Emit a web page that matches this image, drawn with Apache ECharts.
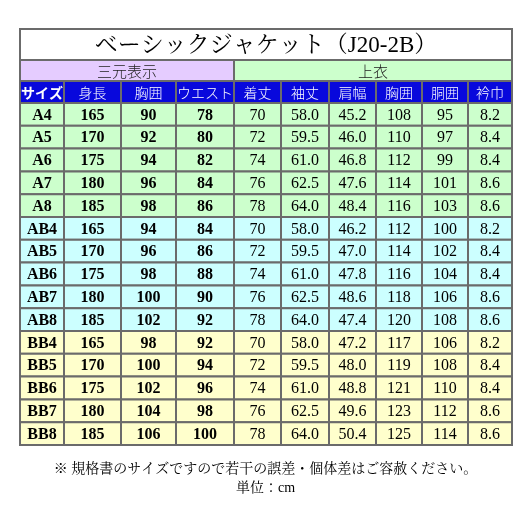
<!DOCTYPE html><html><head><meta charset="utf-8">
<script src="https://cdn.jsdelivr.net/npm/echarts@6/dist/echarts.min.js"></script>
<style>html,body{margin:0;background:#fff}#c{width:531px;height:531px}</style></head><body><div id="c"></div>
<script>
const title = 'ベーシックジャケット（J20-2B）';
const groups = ['三元表示', '上衣'];
const headers = ['サイズ','身長','胸囲','ウエスト','着丈','袖丈','肩幅','胸囲','胴囲','衿巾'];
const sizes = ['A4','A5','A6','A7','A8','AB4','AB5','AB6','AB7','AB8','BB4','BB5','BB6','BB7','BB8'];
const height = [165,170,175,180,185,165,170,175,180,185,165,170,175,180,185];
const chest = [90,92,94,96,98,94,96,98,100,102,98,100,102,104,106];
const waist = [78,80,82,84,86,84,86,88,90,92,92,94,96,98,100];
const length = [70,72,74,76,78,70,72,74,76,78,70,72,74,76,78];
const sleeve = ['58.0','59.5','61.0','62.5','64.0','58.0','59.5','61.0','62.5','64.0','58.0','59.5','61.0','62.5','64.0'];
const shoulder = ['45.2','46.0','46.8','47.6','48.4','46.2','47.0','47.8','48.6','47.4','47.2','48.0','48.8','49.6','50.4'];
const jChest = [108,110,112,114,116,112,114,116,118,120,117,119,121,123,125];
const jWaist = [95,97,99,101,103,100,102,104,106,108,106,108,110,112,114];
const collar = ['8.2','8.4','8.4','8.6','8.6','8.2','8.4','8.4','8.6','8.6','8.2','8.4','8.4','8.6','8.6'];

// layout (styling only)
const colEdges = [0,44,101,156,214,261,309,356,402,448,492];
const rowTop = i => 74 + i*22.8;
const rowFill = s => s.startsWith('BB') ? '#ffffcc' : s.startsWith('AB') ? '#ccffff' : '#ccffcc';
const serif = '"Liberation Serif","Noto Serif CJK JP","Noto Sans CJK JP",serif';
const gothic = '"Noto Sans CJK JP",sans-serif';

const cells = [];
cells.push([0,10,0,31,title,'#ffffff','#000',23,'normal',serif]);
cells.push([0,4,31,52,groups[0],'#e5ccff','#222',15,'300',gothic]);
cells.push([4,10,31,52,groups[1],'#ccffcc','#222',15,'300',gothic]);
headers.forEach((h,j)=>cells.push([j,j+1,52,74,h,'#0808dc','#fff',14,j===0?'bold':'300',gothic]));
sizes.forEach((s,i)=>{
  const vals=[s,height[i],chest[i],waist[i],length[i],sleeve[i],shoulder[i],jChest[i],jWaist[i],collar[i]];
  vals.forEach((v,j)=>cells.push([j,j+1,rowTop(i),rowTop(i+1),String(v),rowFill(s),'#000',16,j<4?'bold':'normal',serif]));
});

const chart = echarts.init(document.getElementById('c'));
chart.setOption({
  animation:false,
  grid:{left:20,top:29,width:492,height:416},
  xAxis:{type:'value',min:0,max:492,show:false},
  yAxis:{type:'value',min:0,max:416,inverse:true,show:false},
  series:[{
    type:'custom',
    data:cells,
    renderItem:(params,api)=>{
      const d=cells[params.dataIndex];
      const p0=api.coord([colEdges[d[0]],d[2]]), p1=api.coord([colEdges[d[1]],d[3]]);
      return {type:'group',children:[
        {type:'rect',shape:{x:p0[0],y:p0[1],width:p1[0]-p0[0],height:p1[1]-p0[1]},
         style:{fill:d[5],stroke:'#6b6b6b',lineWidth:2}},
        {type:'text',style:{x:(p0[0]+p1[0])/2,y:(p0[1]+p1[1])/2+1,text:d[4],fill:d[6],
         font:d[8]+' '+d[7]+'px '+d[9],align:'center',verticalAlign:'middle'}}
      ]};
    }
  }],
  graphic:[
    {type:'text',left:'center',top:462,style:{text:'※ 規格書のサイズですので若干の誤差・個体差はご容赦ください。',fill:'#000',font:'14px '+serif}},
    {type:'text',left:'center',top:481,style:{text:'単位：cm',fill:'#000',font:'14px '+serif}}
  ]
});
</script></body></html>
